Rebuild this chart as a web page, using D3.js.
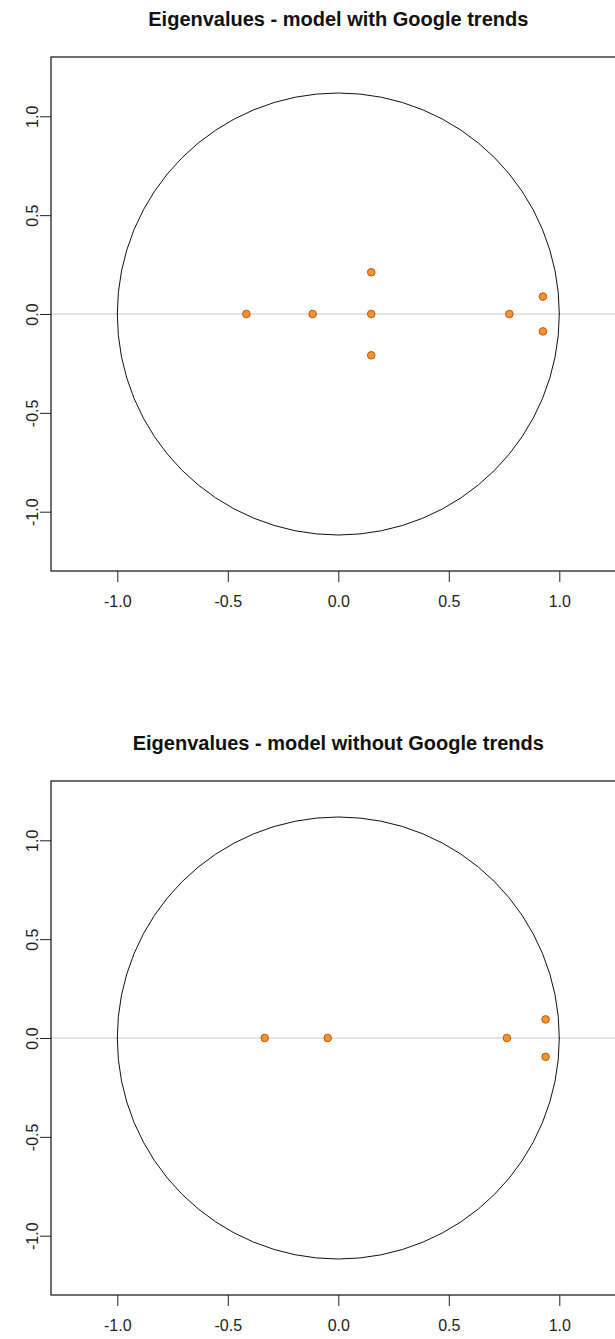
<!DOCTYPE html>
<html>
<head>
<meta charset="utf-8">
<script src="https://cdn.jsdelivr.net/npm/d3@7"></script>
<style>
  body { margin: 0; background: #fff; }
  svg { display: block; font-family: "Liberation Sans", Arial, sans-serif; }
</style>
</head>
<body>
<div class="chart"></div>
<script>
// Panel titles
var panelTitles = [
  "Eigenvalues - model with Google trends",
  "Eigenvalues - model without Google trends"
];

// Eigenvalues, real and imaginary parts
var reWith = [-0.416, -0.116, 0.149, 0.149, 0.149, 0.774, 0.926, 0.926];
var imWith = [0, 0, 0, 0.211, -0.209, 0, 0.088, -0.088];
var reWithout = [-0.333, -0.048, 0.763, 0.938, 0.938];
var imWithout = [0, 0, 0, 0.094, -0.095];

// Axis ticks
var tickValues = [-1, -0.5, 0, 0.5, 1];

var svgWidth = 615;
var svgHeight = 1339;
var panelOffset = 724;

var svg = d3.select(".chart")
  .append("svg")
  .attr("width", svgWidth)
  .attr("height", svgHeight);

// same scales for both panels, each panel is just shifted down
var xScale = d3.scaleLinear().domain([-1.3, 1.3]).range([51, 51 + 2.6 * 221]);
var yScale = d3.scaleLinear().domain([-1.3, 1.3]).range([571, 57]);

// R style labels use a plain hyphen for the minus sign
var fmt = d => d3.format(".1f")(d).replace("\u2212", "-");

var panels = [
  { title: panelTitles[0], re: reWith, im: imWith },
  { title: panelTitles[1], re: reWithout, im: imWithout }
];

panels.forEach(function (p, i) {
  var g = svg.append("g")
    .attr("transform", `translate(0, ${i * panelOffset})`);

  // title
  g.append("text")
    .attr("x", xScale(0))
    .attr("y", 19)
    .attr("dy", "0.35em")
    .attr("text-anchor", "middle")
    .style("font-size", "20px")
    .style("font-weight", "bold")
    .attr("fill", "#111")
    .text(p.title);

  // zero line
  g.append("line")
    .attr("x1", xScale(-1.3))
    .attr("x2", xScale(1.3))
    .attr("y1", yScale(0))
    .attr("y2", yScale(0))
    .attr("stroke", "#c8c8c8")
    .attr("stroke-width", 1);

  // unit circle, radius taken in x units (drawn round on screen)
  var r = xScale(1) - xScale(0);
  g.append("circle")
    .attr("cx", xScale(0))
    .attr("cy", yScale(0))
    .attr("r", r)
    .attr("fill", "none")
    .attr("stroke", "#111")
    .attr("stroke-width", 1);

  // points
  g.selectAll(".pt")
    .data(p.re.map((d, k) => ({ re: d, im: p.im[k] })))
    .enter()
    .append("circle")
    .attr("class", "pt")
    .attr("cx", d => xScale(d.re))
    .attr("cy", d => yScale(d.im))
    .attr("r", 3.8)
    .attr("fill", "#f39430")
    .attr("stroke", "#c0580e")
    .attr("stroke-width", 1);

  // box
  g.append("rect")
    .attr("x", xScale(-1.3))
    .attr("y", yScale(1.3))
    .attr("width", xScale(1.3) - xScale(-1.3))
    .attr("height", yScale(-1.3) - yScale(1.3))
    .attr("fill", "none")
    .attr("stroke", "#222")
    .attr("stroke-width", 1.3);

  var xAxis = d3.axisBottom(xScale)
    .tickValues(tickValues)
    .tickSize(11)
    .tickFormat(fmt);

  var xg = g.append("g")
    .attr("transform", `translate(0, ${yScale(-1.3)})`)
    .call(xAxis);
  xg.select(".domain").remove();
  xg.selectAll("line").attr("stroke", "#222");
  xg.selectAll("text")
    .attr("y", 30)
    .attr("dy", "0.35em")
    .style("font-size", "16px")
    .style("font-family", "'Liberation Sans', Arial, sans-serif")
    .attr("fill", "#222");

  var yAxis = d3.axisLeft(yScale)
    .tickValues(tickValues)
    .tickSize(11)
    .tickFormat(fmt);

  var yg = g.append("g")
    .attr("transform", `translate(${xScale(-1.3)}, 0)`)
    .call(yAxis);
  yg.select(".domain").remove();
  yg.selectAll("line").attr("stroke", "#222");
  yg.selectAll("text")
    .attr("x", null)
    .attr("text-anchor", "middle")
    .attr("transform", "translate(-19, 0) rotate(-90)")
    .attr("dy", "0.35em")
    .style("font-size", "16px")
    .style("font-family", "'Liberation Sans', Arial, sans-serif")
    .attr("fill", "#222");
});
</script>
</body>
</html>
